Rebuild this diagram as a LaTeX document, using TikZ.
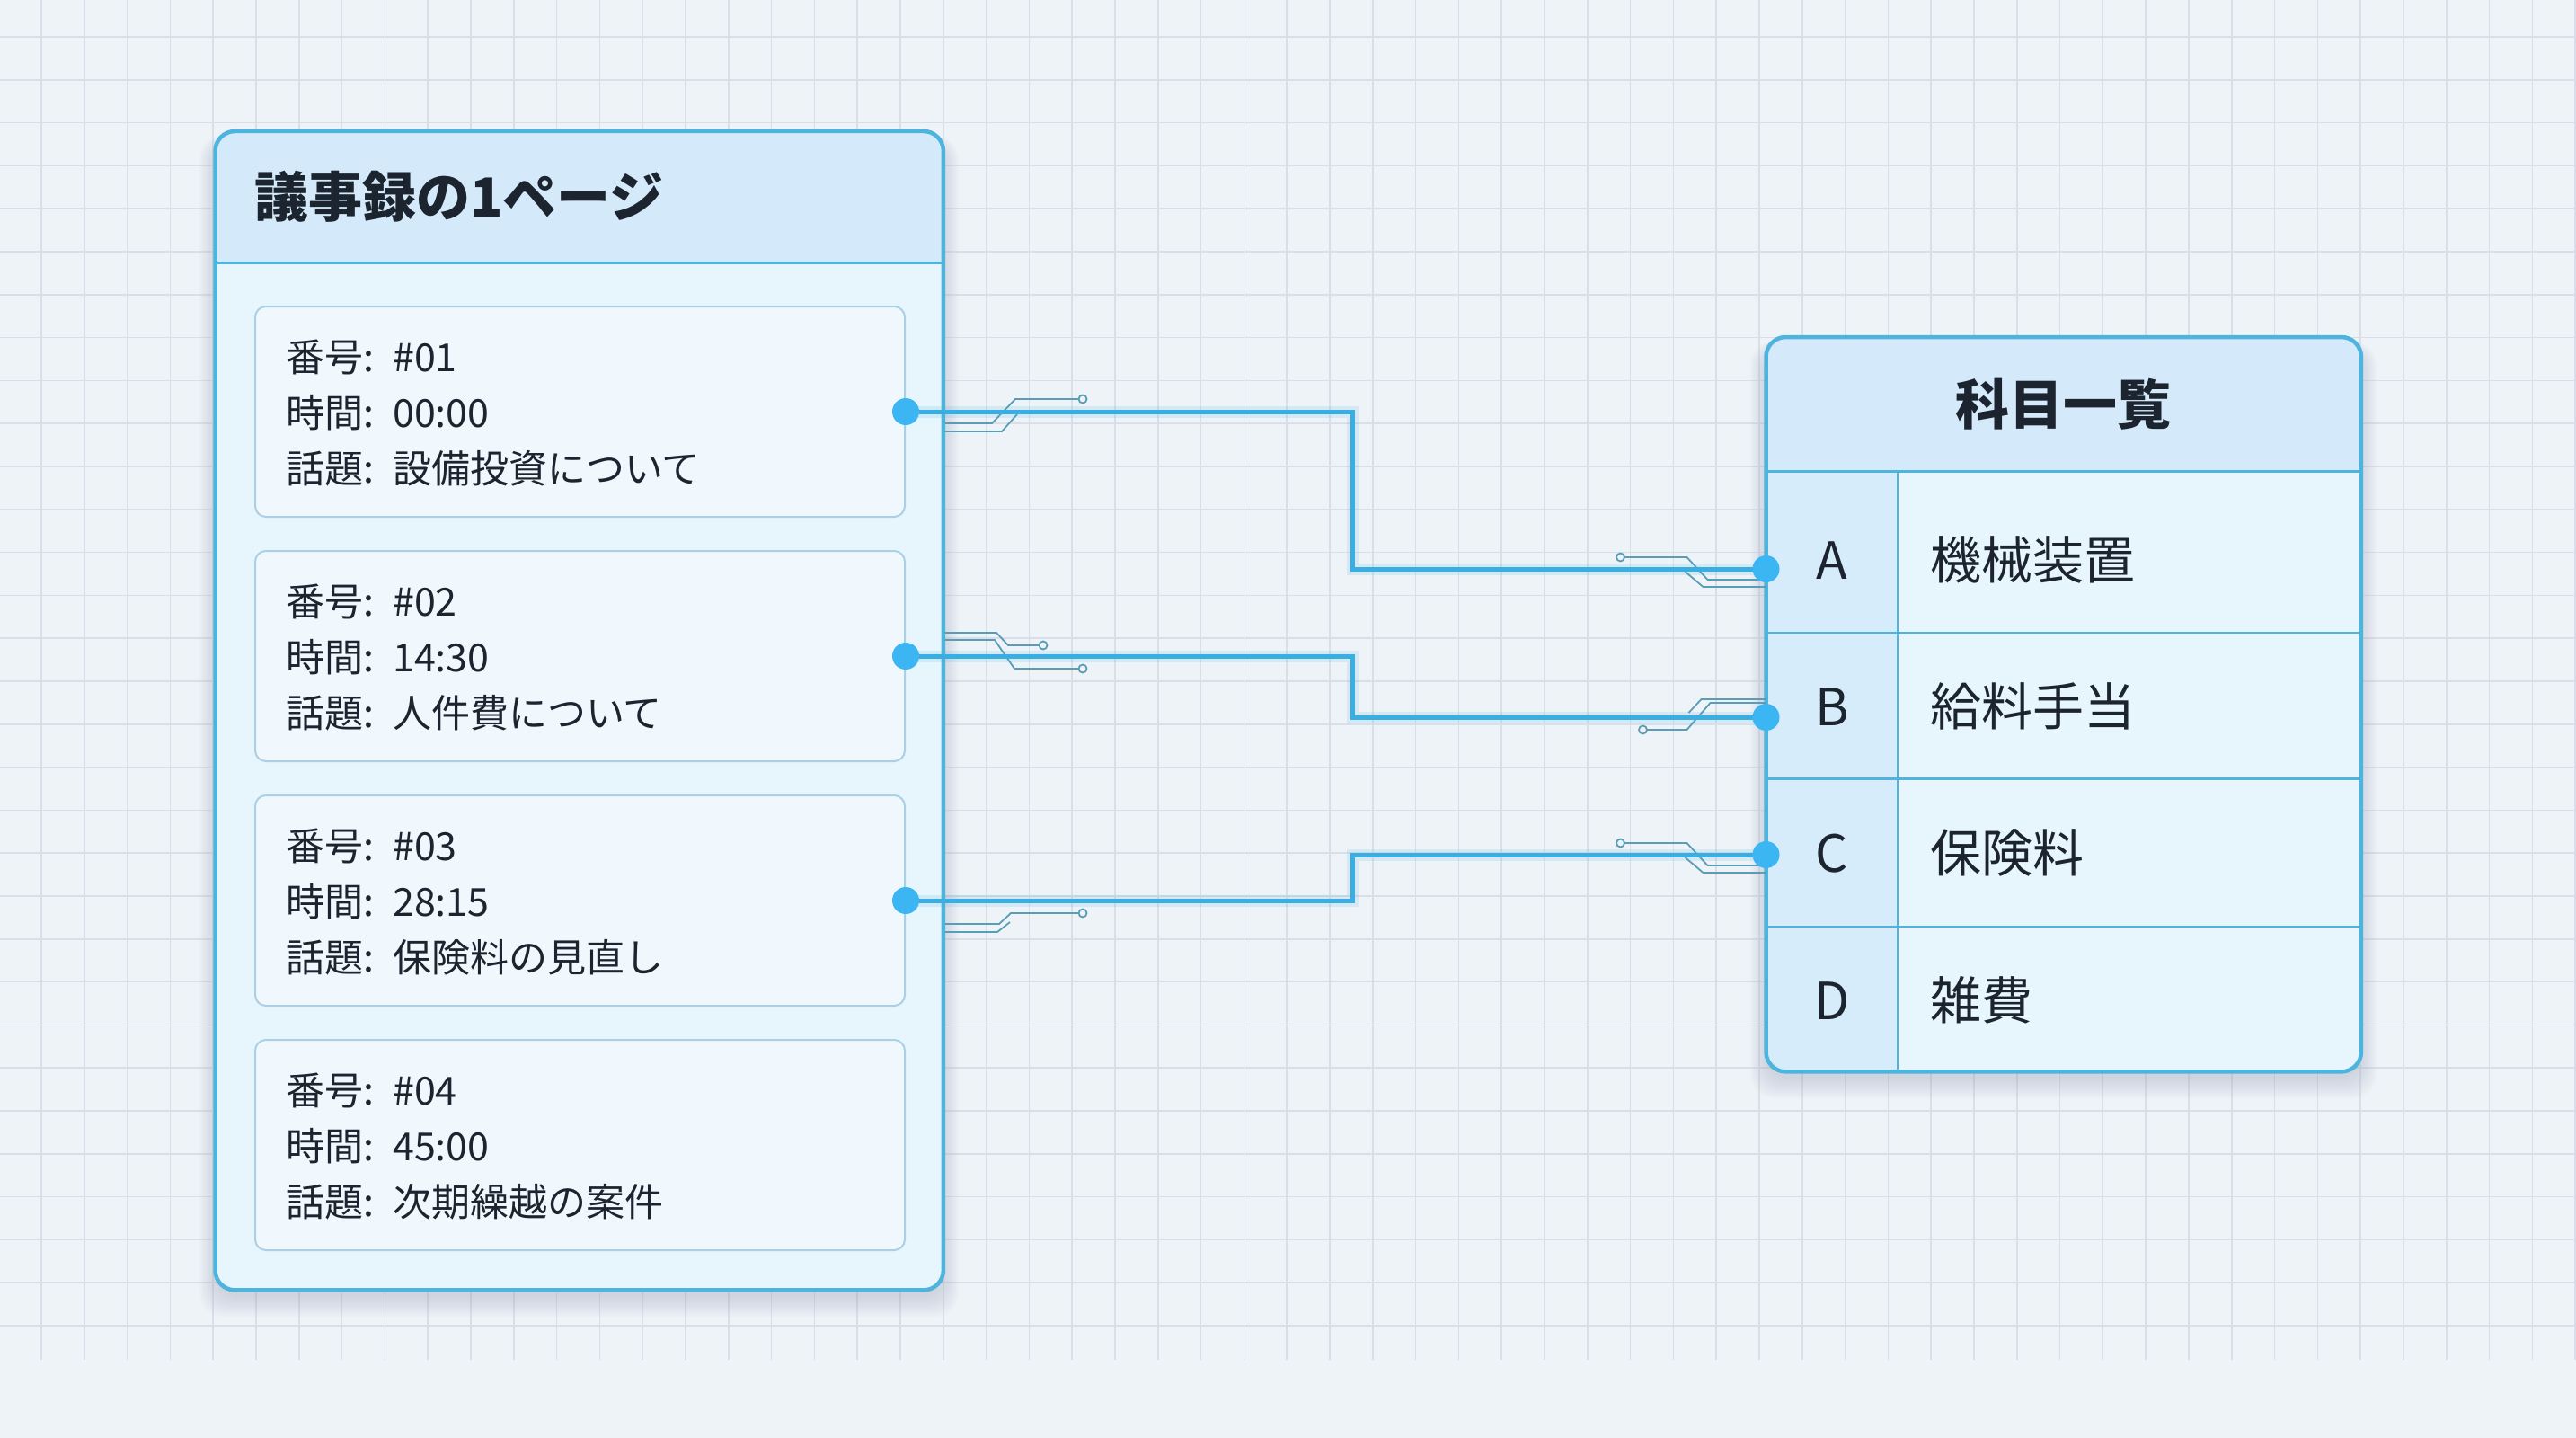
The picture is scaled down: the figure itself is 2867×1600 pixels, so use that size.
\documentclass[tikz,border=0pt]{standalone}
\usepackage{fontspec}
\setmainfont{Noto Sans CJK JP}

\definecolor{bg}{HTML}{EEF3F8}
\definecolor{gridc}{HTML}{DADEE9}
\definecolor{frame}{HTML}{4DB4DE}
\definecolor{headfill}{HTML}{D4EAFA}
\definecolor{bodyfill}{HTML}{E7F5FD}
\definecolor{cardline}{HTML}{A9D1E5}
\definecolor{cardfill}{HTML}{F0F8FD}
\definecolor{wirec}{HTML}{3AAEE0}
\definecolor{dotc}{HTML}{3BB6F2}
\definecolor{tracec}{HTML}{5A9DB6}
\definecolor{ink}{HTML}{1C2430}
\definecolor{keyfill}{HTML}{D6ECFB}
\definecolor{shade}{HTML}{5A6478}

\pgfdeclarelayer{wires}
\pgfdeclarelayer{dots}
\pgfsetlayers{main,wires,dots}

\tikzset{
  panelbox/.style={rectangle, rounded corners=22pt, fill=bodyfill, inner sep=0pt, anchor=north west},
  softshadow/.style={fill=shade, opacity=0.014, rounded corners=26pt},
  paneledge/.style={draw=frame, line width=4.5pt, rounded corners=22pt},
  divider/.style={draw=frame, line width=3.5pt},
  rowline/.style={draw=frame, line width=2.5pt},
  cardbox/.style={rectangle, rounded corners=12pt, draw=cardline, line width=2pt, fill=cardfill,
    minimum width=723pt, minimum height=234pt, inner sep=0pt, anchor=north west},
  titletext/.style={text=ink, font=\fontsize{60}{72}\selectfont\bfseries, inner sep=0pt},
  cardtext/.style={text=ink, font=\fontsize{43}{52}\selectfont, inner sep=0pt, anchor=base west},
  rowtext/.style={text=ink, font=\fontsize{57}{68}\selectfont, inner sep=0pt},
  wire/.style={draw=wirec, line width=5pt},
  wireglow/.style={draw=wirec, line width=13pt, opacity=0.14},
  dotnode/.style={circle, fill=dotc, minimum size=30pt, inner sep=0pt},
  trace/.style={draw=tracec, line width=1.8pt},
  pad/.style={draw=tracec, line width=1.8pt, fill=bg},
}

\begin{document}
\begin{tikzpicture}[x=1pt, y=-1pt]
  % canvas and grid paper
  \fill[bg] (0,0) rectangle (2867,1600);
  \useasboundingbox (0,0) rectangle (2867,1600);
  \foreach \i in {0,...,60}
    \draw[gridc, line width=1.7pt] ({-1.8+47.8*\i},0) -- ({-1.8+47.8*\i},1513);
  \foreach \j in {1,...,31}
    \draw[gridc, line width=1.7pt] (0,{-6.8+47.8*\j}) -- (2867,{-6.8+47.8*\j});

  % soft shadows under both panels
  \foreach \s in {0,2,...,22} {
    \fill[softshadow] ({239.5-0.8*\s},{160-0.4*\s}) rectangle ({1049.5+0.8*\s},{1443+\s});
    \fill[softshadow] ({1965.5-0.8*\s},{389-0.4*\s}) rectangle ({2627.5+0.8*\s},{1200+\s});
  }

  % ---------- minutes page ----------
  \node[panelbox, minimum width=810pt, minimum height=1289pt] (minutes) at (239.5,146) {};
  \begin{scope}
    \clip[rounded corners=22pt] (minutes.north west) rectangle (minutes.south east);
    \fill[headfill] (minutes.north west) rectangle (1049.5,292.5);
  \end{scope}
  \draw[divider] (minutes.west |- 0,292.5) -- (minutes.east |- 0,292.5);
  \draw[paneledge] (minutes.north west) rectangle (minutes.south east);
  \node[titletext, anchor=base west] (mtitle) at (283,241) {議事録の1ページ};

  \foreach \k/\num/\tm/\topic/\top in {
      1/01/00:00/設備投資について/340,
      2/02/14:30/人件費について/612,
      3/03/28:15/保険料の見直し/884,
      4/04/45:00/次期繰越の案件/1156} {
    \node[cardbox] (card\k) at (283,\top) {};
    \node[cardtext] (num\k) at (318,\top+73) {\makebox[119pt][l]{番号:}\#\num};
    \node[cardtext] (time\k) at (318,\top+135) {\makebox[119pt][l]{時間:}\tm};
    \node[cardtext] (topic\k) at (318,\top+197) {\makebox[119pt][l]{話題:}\topic};
  }

  % ---------- account list ----------
  \node[panelbox, minimum width=662pt, minimum height=817pt] (accounts) at (1965.5,375) {};
  \begin{scope}
    \clip[rounded corners=22pt] (accounts.north west) rectangle (accounts.south east);
    \fill[headfill] (accounts.north west) rectangle (2627.5,524.7);
    \fill[keyfill] (1965.5,524.7) rectangle (2112,1192);
  \end{scope}
  \draw[divider] (accounts.west |- 0,524.7) -- (accounts.east |- 0,524.7);
  \foreach \yy in {704,866.7,1031}
    \draw[rowline] (accounts.west |- 0,\yy) -- (accounts.east |- 0,\yy);
  \draw[rowline] (2112,524.7) -- (2112,1192);
  \draw[paneledge] (accounts.north west) rectangle (accounts.south east);
  \node[titletext, anchor=base] (atitle) at (2296.5,472) {科目一覧};

  \foreach \n/\t/\yc in {A/機械装置/623, B/給料手当/786, C/保険料/949, D/雑費/1113} {
    \node[rowtext, anchor=base] (key\n) at (2039,\yc+21) {\n};
    \node[rowtext, anchor=base west] (item\n) at (2148,\yc+21) {\t};
  }

  % ---------- connection points (drawn above the wires) ----------
  \begin{pgfonlayer}{dots}
    \node[dotnode] (s1) at (card1.east) {};
    \node[dotnode] (s2) at (card2.east) {};
    \node[dotnode] (s3) at (card3.east) {};
    \node[dotnode] (tA) at (1965.5,633) {};
    \node[dotnode] (tB) at (1965.5,798) {};
    \node[dotnode] (tC) at (1965.5,951) {};
  \end{pgfonlayer}

  \begin{pgfonlayer}{wires}
    % circuit traces beside the terminals
    \begin{scope}[shift={(s1.center)}]
      \draw[trace] (44,13) -- (96,13) -- (122,-14) -- (193,-14);
      \draw[pad] (197,-14) circle (4.5pt);
      \draw[trace] (44,22) -- (107,22) -- (124,3);
    \end{scope}
    \begin{scope}[shift={(s2.center)}]
      \draw[trace] (44,-26) -- (101,-26) -- (114,-12) -- (149,-12);
      \draw[pad] (153,-12) circle (4.5pt);
      \draw[trace] (44,-18) -- (99,-18) -- (121,14) -- (193,14);
      \draw[pad] (197,14) circle (4.5pt);
    \end{scope}
    \begin{scope}[shift={(s3.center)}]
      \draw[trace] (44,26) -- (104,26) -- (117,14) -- (193,14);
      \draw[pad] (197,14) circle (4.5pt);
      \draw[trace] (44,35) -- (102,35) -- (116,24);
    \end{scope}
    \begin{scope}[shift={(tA.center)}]
      \draw[trace] (-158,-13) -- (-88,-13) -- (-65,12) -- (0,12);
      \draw[pad] (-162,-13) circle (4.5pt);
      \draw[trace] (-90,3) -- (-70,20) -- (0,20);
    \end{scope}
    \begin{scope}[shift={(tB.center)}]
      \draw[trace] (-133,14) -- (-88,14) -- (-62,-16) -- (0,-16);
      \draw[pad] (-137,14) circle (4.5pt);
      \draw[trace] (0,-20) -- (-72,-20) -- (-86,-5);
    \end{scope}
    \begin{scope}[shift={(tC.center)}]
      \draw[trace] (-158,-13) -- (-88,-13) -- (-65,12) -- (0,12);
      \draw[pad] (-162,-13) circle (4.5pt);
      \draw[trace] (-90,3) -- (-70,20) -- (0,20);
    \end{scope}

    % connectors
    \coordinate (k1) at (1505,633);
    \coordinate (k2) at (1505,798);
    \coordinate (k3) at (1505,951);
    \foreach \st in {wireglow, wire} {
      \draw[\st] (s1.center) -| (k1) -- (tA.center);
      \draw[\st] (s2.center) -| (k2) -- (tB.center);
      \draw[\st] (s3.center) -| (k3) -- (tC.center);
    }
  \end{pgfonlayer}
\end{tikzpicture}
\end{document}
